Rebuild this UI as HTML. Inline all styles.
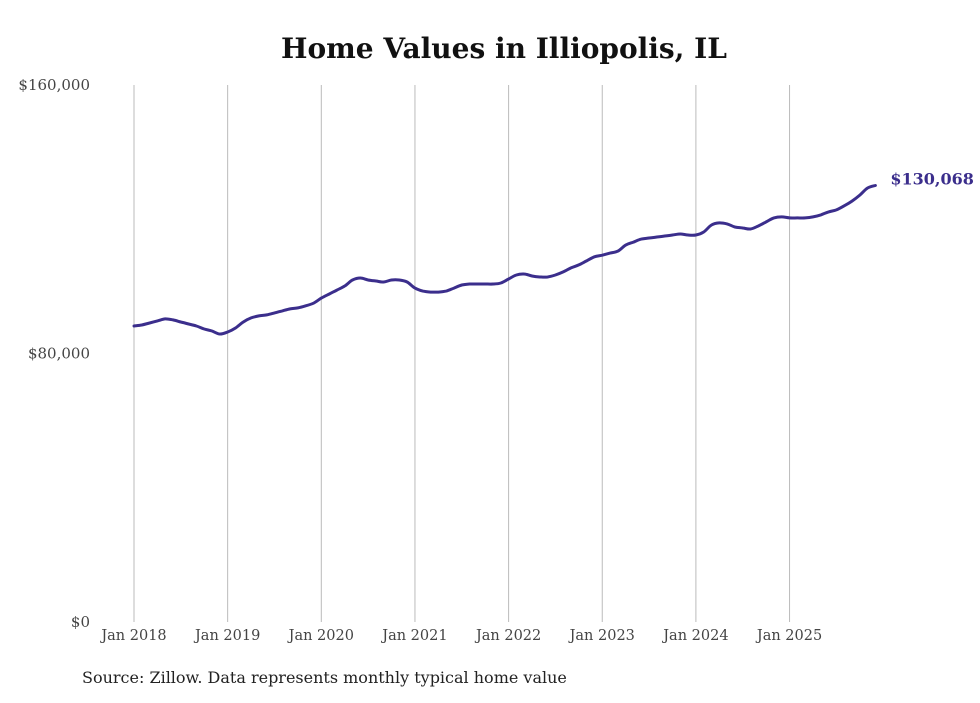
<!DOCTYPE html>
<html><head><meta charset="utf-8"><style>
body{margin:0;background:#fff;width:980px;height:699px;overflow:hidden;font-family:"DejaVu Serif","Liberation Serif",serif;}
</style></head><body>
<svg id="chart" width="980" height="699" xmlns="http://www.w3.org/2000/svg">
<text x="504" y="58" text-anchor="middle" font-size="28" font-weight="bold" fill="#111">Home Values in Illiopolis, IL</text>
<g id="grid"></g><g id="yaxis"></g><g id="xaxis"></g><g id="series"></g>
<text x="82" y="683" font-size="16" fill="#222">Source: Zillow. Data represents monthly typical home value</text>
</svg>
<script>
const xTickLabels=["Jan 2018","Jan 2019","Jan 2020","Jan 2021","Jan 2022","Jan 2023","Jan 2024","Jan 2025"];
const yTicks=[0,80000,160000];
const yTickLabels=["$0","$80,000","$160,000"];
const values=[88.2,88.5,89.1,89.7,90.3,90.0,89.4,88.8,88.2,87.3,86.7,85.8,
86.4,87.6,89.4,90.6,91.2,91.5,92.1,92.7,93.3,93.6,94.2,95.0,
96.5,97.7,98.9,100.1,101.9,102.5,101.9,101.6,101.3,101.9,101.9,101.3,
99.5,98.6,98.3,98.3,98.6,99.5,100.4,100.7,100.7,100.7,100.7,101.0,
102.2,103.4,103.7,103.1,102.8,102.8,103.4,104.3,105.5,106.4,107.6,108.8,
109.3,109.9,110.5,112.3,113.2,114.1,114.4,114.7,115.0,115.3,115.6,115.3,
115.3,116.2,118.3,118.9,118.6,117.7,117.4,117.1,118.0,119.2,120.4,120.7,
120.4,120.4,120.4,120.7,121.3,122.2,122.8,124.0,125.4,127.2,129.3,130.068];
const lastLabel="$130,068";
const NS="http://www.w3.org/2000/svg";
const x=i=>134+i*(93.65/12);
const y=v=>622-v/160000*537;
function mk(t,a,p){const e=document.createElementNS(NS,t);for(const k in a)e.setAttribute(k,a[k]);p.appendChild(e);return e;}
const grid=document.getElementById('grid'),xa=document.getElementById('xaxis'),ya=document.getElementById('yaxis'),se=document.getElementById('series');
xTickLabels.forEach((l,k)=>{
 const g=mk('line',{x1:x(k*12),x2:x(k*12),y1:85,y2:622,stroke:'#bbb','stroke-width':1},grid);
 
 
 const t=mk('text',{x:x(k*12),y:640,'text-anchor':'middle','font-size':14.5,fill:'#444'},xa);
 t.textContent=l;
 
 
});
yTicks.forEach((v,k)=>{
 const t=mk('text',{x:90,y:y(v)+5,'text-anchor':'end','font-size':15,fill:'#444'},ya);
 t.textContent=yTickLabels[k];
 
 
});
const pts=values.map((v,i)=>[x(i),y(v*1000)]);
let d='M'+pts[0][0].toFixed(1)+','+pts[0][1].toFixed(1);
for(let i=0;i<pts.length-1;i++){
 const p0=pts[i-1]||pts[i],p1=pts[i],p2=pts[i+1],p3=pts[i+2]||p2;
 const c1=[p1[0]+(p2[0]-p0[0])/6,p1[1]+(p2[1]-p0[1])/6];
 const c2=[p2[0]-(p3[0]-p1[0])/6,p2[1]-(p3[1]-p1[1])/6];
 d+='C'+c1.map(n=>n.toFixed(1)).join(',')+' '+c2.map(n=>n.toFixed(1)).join(',')+' '+p2.map(n=>n.toFixed(1)).join(',');
}
const p=mk('path',{d:d,fill:'none',stroke:'#3b2e8c','stroke-width':3,'stroke-linejoin':'round','stroke-linecap':'round'},se);


const n=values.length-1;
const lt=mk('text',{x:x(n)+15,y:y(values[n]*1000)-1,'font-size':16,'font-weight':'bold',fill:'#3b2e8c'},se);
lt.textContent=lastLabel;


</script>
</body></html>
